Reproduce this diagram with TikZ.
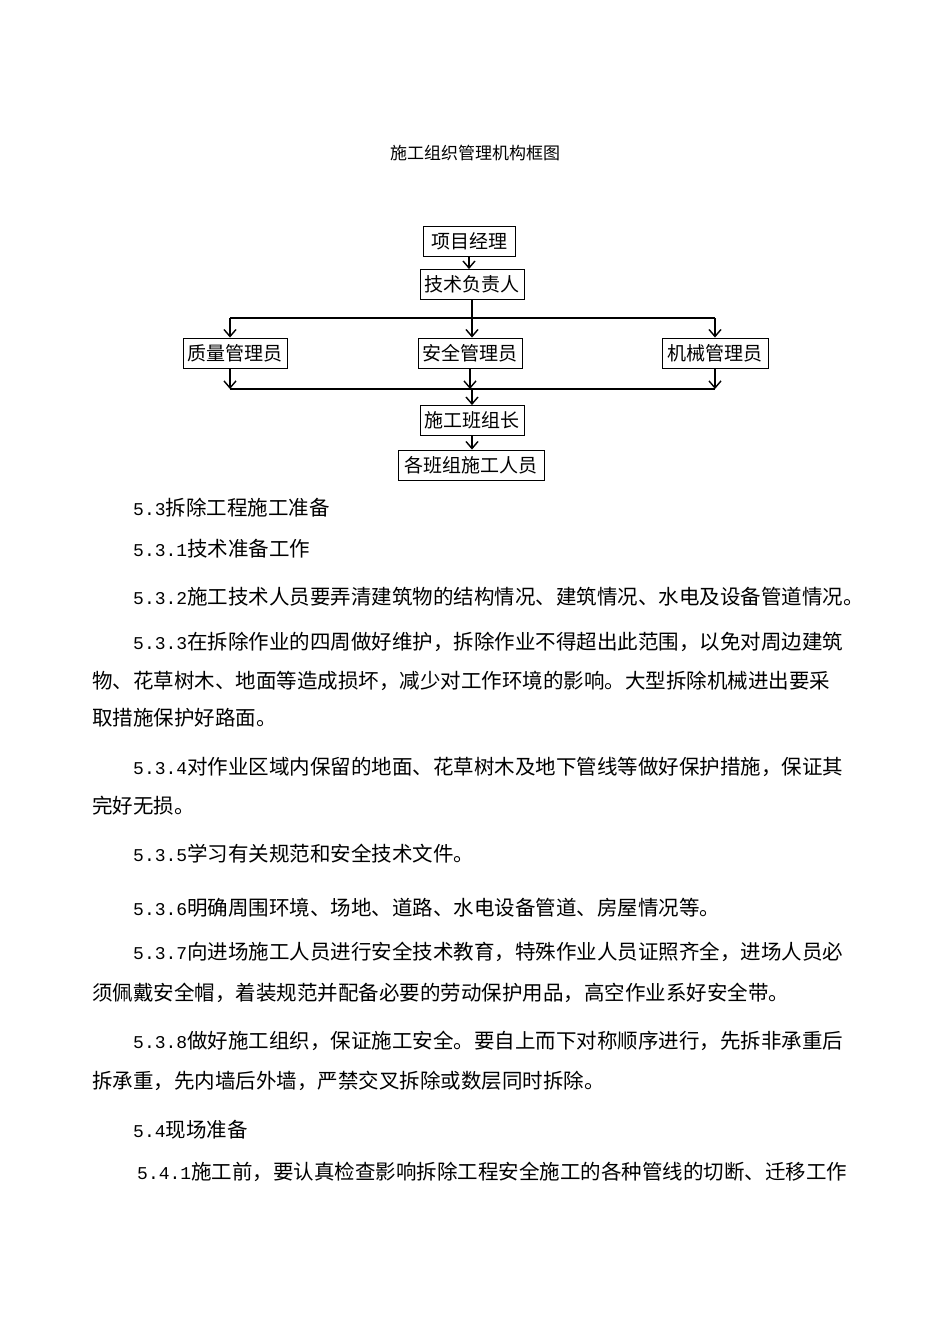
\documentclass[tikz,border=0pt]{standalone}
\usepackage{fontspec}
\setmainfont{Liberation Mono}
\newfontfamily\cjk{Noto Sans CJK SC}
\usetikzlibrary{arrows.meta}
\newcommand{\n}[1]{{\rmfamily\fontsize{18}{20}\selectfont #1}}
\begin{document}
\begin{tikzpicture}[x=1pt,y=-1pt,
  box/.style={draw,line width=0.9pt,inner sep=0pt,minimum height=30,font=\cjk\fontsize{19}{21}\selectfont},
  arr/.style={line width=1.4pt,-{Straight Barb[length=7pt,width=12pt,line width=1.4pt]}},
  ln/.style={line width=1.4pt},
  para/.style={anchor=west,inner sep=0pt,font=\cjk\fontsize{20.5}{22}\selectfont}]
\useasboundingbox (0,0) rectangle (950,1344);
\node[font=\cjk\fontsize{17}{19}\selectfont] (title) at (475,153) {施工组织管理机构框图};
\node[box,minimum width=92] (pm) at (469,241) {项目经理};
\node[box,minimum width=104] (tech) at (472,284.5) {技术负责人};
\node[box,minimum width=104] (qa) at (235,353) {质量管理员};
\node[box,minimum width=104] (sa) at (470,353) {安全管理员};
\node[box,minimum width=106] (me) at (715,353) {机械管理员};
\node[box,minimum width=104] (lead) at (472,420.5) {施工班组长};
\node[box,minimum width=146] (crew) at (471,465) {各班组施工人员};
\coordinate (t1) at (230,318); \coordinate (t2) at (715,318);
\coordinate (b1) at (230,389); \coordinate (b2) at (715,389);
\coordinate (bm) at (472,389);
\draw[arr] (pm.south) -- (pm.south |- tech.north);
\draw[arr] (tech.south) -- (tech.south |- sa.north);
\draw[ln] (t1) -- (t2);
\draw[arr] (t1) -- (t1 |- qa.north);
\draw[arr] (t2) -- (t2 |- me.north);
\draw[arr] (qa.south -| t1) -- (b1);
\draw[arr] (me.south -| t2) -- (b2);
\draw[arr] (sa.south) -- (sa.south |- b1);
\draw[ln] (b1) -- (b2);
\draw[arr] (bm) -- (lead.north);
\draw[arr] (lead.south) -- (lead.south |- crew.north);
\node[para] (p1) at (133,508) {\n{5.3}拆除工程施工准备};
\node[para] (p2) at (133,549) {\n{5.3.1}技术准备工作};
\node[para] (p3) at (133,597) {\n{5.3.2}施工技术人员要弄清建筑物的结构情况、建筑情况、水电及设备管道情况。};
\node[para] (p4) at (133,642) {\n{5.3.3}在拆除作业的四周做好维护，拆除作业不得超出此范围，以免对周边建筑};
\node[para] (p5) at (92,681) {物、花草树木、地面等造成损坏，减少对工作环境的影响。大型拆除机械进出要采};
\node[para] (p6) at (92,718) {取措施保护好路面。};
\node[para] (p7) at (133,767) {\n{5.3.4}对作业区域内保留的地面、花草树木及地下管线等做好保护措施，保证其};
\node[para] (p8) at (92,806) {完好无损。};
\node[para] (p9) at (133,854) {\n{5.3.5}学习有关规范和安全技术文件。};
\node[para] (p10) at (133,908) {\n{5.3.6}明确周围环境、场地、道路、水电设备管道、房屋情况等。};
\node[para] (p11) at (133,952) {\n{5.3.7}向进场施工人员进行安全技术教育，特殊作业人员证照齐全，进场人员必};
\node[para] (p12) at (92,993) {须佩戴安全帽，着装规范并配备必要的劳动保护用品，高空作业系好安全带。};
\node[para] (p13) at (133,1041) {\n{5.3.8}做好施工组织，保证施工安全。要自上而下对称顺序进行，先拆非承重后};
\node[para] (p14) at (92,1081) {拆承重，先内墙后外墙，严禁交叉拆除或数层同时拆除。};
\node[para] (p15) at (133,1130) {\n{5.4}现场准备};
\node[para] (p16) at (137,1172) {\n{5.4.1}施工前，要认真检查影响拆除工程安全施工的各种管线的切断、迁移工作};
\end{tikzpicture}
\end{document}
